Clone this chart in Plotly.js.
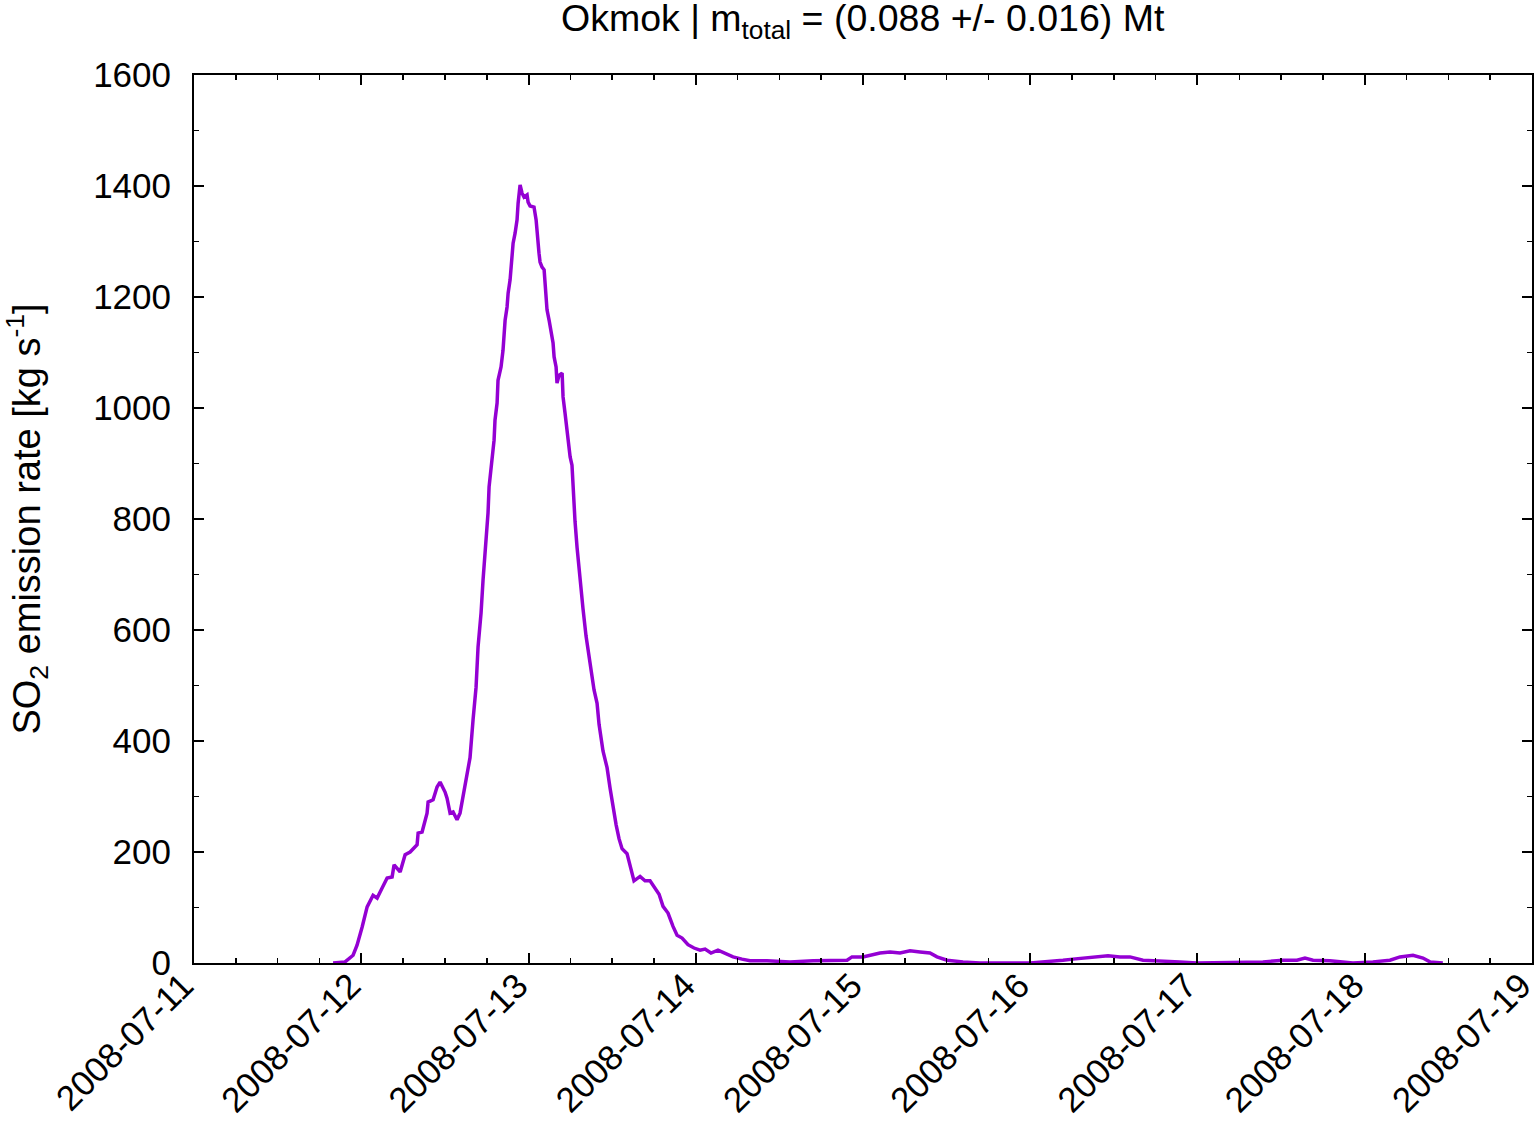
<!DOCTYPE html>
<html>
<head>
<meta charset="utf-8">
<script src="https://cdn.plot.ly/plotly-3.0.1.min.js"></script>
<style>html,body{margin:0;padding:0;background:#fff;}#chart{width:1535px;height:1127px;}</style>
</head>
<body>
<div id="chart"></div>
<script>
const times = [
"2008-07-11 19:57","2008-07-11 21:40","2008-07-11 22:49","2008-07-11 23:23",
"2008-07-12 00:07","2008-07-12 00:50","2008-07-12 01:41","2008-07-12 02:16","2008-07-12 02:59",
"2008-07-12 03:42","2008-07-12 04:25","2008-07-12 04:42","2008-07-12 05:34","2008-07-12 06:17",
"2008-07-12 07:00","2008-07-12 08:00","2008-07-12 08:09","2008-07-12 08:43","2008-07-12 09:26",
"2008-07-12 09:35","2008-07-12 10:18","2008-07-12 10:52","2008-07-12 11:18","2008-07-12 12:01",
"2008-07-12 12:18","2008-07-12 12:44","2008-07-12 13:10","2008-07-12 13:44","2008-07-12 14:10",
"2008-07-12 14:36","2008-07-12 15:11","2008-07-12 15:36","2008-07-12 16:02","2008-07-12 16:28",
"2008-07-12 16:45","2008-07-12 17:11","2008-07-12 17:28","2008-07-12 17:54","2008-07-12 18:11",
"2008-07-12 18:20","2008-07-12 18:46","2008-07-12 19:03","2008-07-12 19:11","2008-07-12 19:29",
"2008-07-12 19:37","2008-07-12 20:03","2008-07-12 20:20","2008-07-12 20:29","2008-07-12 20:38",
"2008-07-12 20:55","2008-07-12 21:04","2008-07-12 21:21","2008-07-12 21:38","2008-07-12 21:47",
"2008-07-12 22:04","2008-07-12 22:21","2008-07-12 22:30","2008-07-12 22:38","2008-07-12 22:47",
"2008-07-12 23:04","2008-07-12 23:21","2008-07-12 23:47","2008-07-12 23:56",
"2008-07-13 00:13","2008-07-13 00:47","2008-07-13 01:05","2008-07-13 01:13","2008-07-13 01:30",
"2008-07-13 01:39","2008-07-13 01:56","2008-07-13 02:14","2008-07-13 02:22","2008-07-13 02:31",
"2008-07-13 02:39","2008-07-13 02:57","2008-07-13 03:14","2008-07-13 03:31","2008-07-13 03:40",
"2008-07-13 03:57","2008-07-13 04:05","2008-07-13 04:23","2008-07-13 04:49","2008-07-13 04:57",
"2008-07-13 05:14","2008-07-13 05:32","2008-07-13 05:40","2008-07-13 05:58","2008-07-13 06:14",
"2008-07-13 06:23","2008-07-13 06:40","2008-07-13 06:58","2008-07-13 07:23","2008-07-13 07:49",
"2008-07-13 08:15","2008-07-13 08:41","2008-07-13 09:07","2008-07-13 09:24","2008-07-13 09:50",
"2008-07-13 10:07","2008-07-13 10:41","2008-07-13 11:16","2008-07-13 11:42","2008-07-13 12:08",
"2008-07-13 12:34","2008-07-13 12:59","2008-07-13 13:25","2008-07-13 14:08","2008-07-13 14:34",
"2008-07-13 15:08","2008-07-13 16:00","2008-07-13 16:43","2008-07-13 17:26","2008-07-13 18:09",
"2008-07-13 18:44","2008-07-13 19:18","2008-07-13 20:01","2008-07-13 20:44","2008-07-13 21:19",
"2008-07-13 22:02","2008-07-13 22:53","2008-07-13 23:45",
"2008-07-14 00:37","2008-07-14 01:20","2008-07-14 02:11","2008-07-14 03:11","2008-07-14 04:12",
"2008-07-14 05:21","2008-07-14 06:38","2008-07-14 07:47","2008-07-14 10:14","2008-07-14 13:32",
"2008-07-14 16:50","2008-07-14 19:42","2008-07-14 21:43","2008-07-14 22:25",
"2008-07-15 00:00","2008-07-15 02:26","2008-07-15 03:53","2008-07-15 05:19","2008-07-15 06:45",
"2008-07-15 08:11","2008-07-15 09:37","2008-07-15 10:37","2008-07-15 12:04","2008-07-15 14:21",
"2008-07-15 16:47",
"2008-07-16 00:00","2008-07-16 02:25","2008-07-16 04:42","2008-07-16 06:08","2008-07-16 07:08",
"2008-07-16 08:35","2008-07-16 09:35","2008-07-16 11:10","2008-07-16 12:53","2008-07-16 14:19",
"2008-07-16 16:11","2008-07-16 19:03","2008-07-16 21:29","2008-07-16 23:56",
"2008-07-17 09:24","2008-07-17 12:16","2008-07-17 14:17","2008-07-17 15:26","2008-07-17 16:35",
"2008-07-17 19:01","2008-07-17 22:19",
"2008-07-18 01:11","2008-07-18 03:38","2008-07-18 05:04","2008-07-18 06:56","2008-07-18 08:22",
"2008-07-18 09:22","2008-07-18 11:13"
];
const so2Rate = [
0,2,14,32,
65,101,122,117,135,
153,155,177,164,195,
200,213,234,236,270,
290,294,317,326,308,
297,270,272,258,270,
299,335,370,438,497,
569,631,690,762,811,
858,906,942,978,1009,
1050,1074,1104,1128,1158,
1182,1207,1231,1267,1297,
1315,1339,1369,1393,1402,
1387,1380,1384,1371,
1364,1362,1339,1315,1279,
1263,1254,1249,1225,1200,
1177,1158,1141,1117,1092,
1074,1045,1059,1063,1020,
991,960,937,912,897,
851,796,748,687,638,
589,553,517,492,468,
430,382,352,315,279,
249,224,206,197,175,
148,156,148,148,136,
124,102,90,66,50,
45,33,27,
23,25,18,23,18,
11,7,4,4,2,
4,5,5,11,
11,18,20,18,22,
20,18,11,5,2,
0,
0,2,5,7,8,
9,11,13,11,11,
5,4,2,0,
2,5,5,9,5,
4,0,
2,5,11,14,9,
2,0
];
const xTickVals = ["2008-07-11","2008-07-12","2008-07-13","2008-07-14","2008-07-15","2008-07-16","2008-07-17","2008-07-18","2008-07-19"];
const yTickVals = [0,200,400,600,800,1000,1200,1400,1600];

const fam = "Liberation Sans, Arial, Helvetica, sans-serif";
const tickFont = {family: fam, size: 35, color: "#000"};
const titleFont = {family: fam, size: 37.5, color: "#000"};
const yTitleFont = {family: fam, size: 38, color: "#000"};

Plotly.newPlot("chart", [{
  x: times, y: so2Rate, type: "scatter", mode: "lines",
  line: {color: "#9400D3", width: 3.5}, showlegend: false
}], {
  width: 1535, height: 1127,
  margin: {l: 194, r: 3, t: 75, b: 164},
  paper_bgcolor: "#fff", plot_bgcolor: "#fff",
  font: tickFont,
  title: {text: "Okmok | m<sub>total</sub> = (0.088 +/- 0.016) Mt", font: titleFont, x: 0.562, xanchor: "center", y: 0.984, yanchor: "middle"},
  xaxis: {
    type: "date", range: ["2008-07-10 23:59", "2008-07-19 00:01"],
    tickmode: "array", tickvals: xTickVals, ticktext: xTickVals,
    tickangle: -45, ticks: "inside", ticklen: 10, tickwidth: 2, tickcolor: "#000",
    ticklabelstandoff: -14, ticklabelshift: -11, ticklabeloverflow: "allow",
    minor: {ticks: "inside", ticklen: 5, tickwidth: 1.5, tickcolor: "#000", dtick: 6*3600*1000, tick0: "2008-07-11", showgrid: false},
    showline: true, linecolor: "#000", linewidth: 2, mirror: "allticks",
    showgrid: false, zeroline: false, tickfont: tickFont
  },
  yaxis: {
    range: [0, 1600], tickmode: "array", tickvals: yTickVals,
    ticks: "inside", ticklen: 10, tickwidth: 2, tickcolor: "#000",
    ticklabelstandoff: 14,
    minor: {ticks: "inside", ticklen: 5, tickwidth: 1.5, tickcolor: "#000", dtick: 100, showgrid: false},
    showline: true, linecolor: "#000", linewidth: 2, mirror: "allticks",
    showgrid: false, zeroline: false, tickfont: tickFont,
    title: {text: "SO<sub>2</sub> emission rate [kg s<sup>-1</sup>]", font: yTitleFont, standoff: 44}
  }
}, {displayModeBar: false, staticPlot: true});
</script>
</body>
</html>
